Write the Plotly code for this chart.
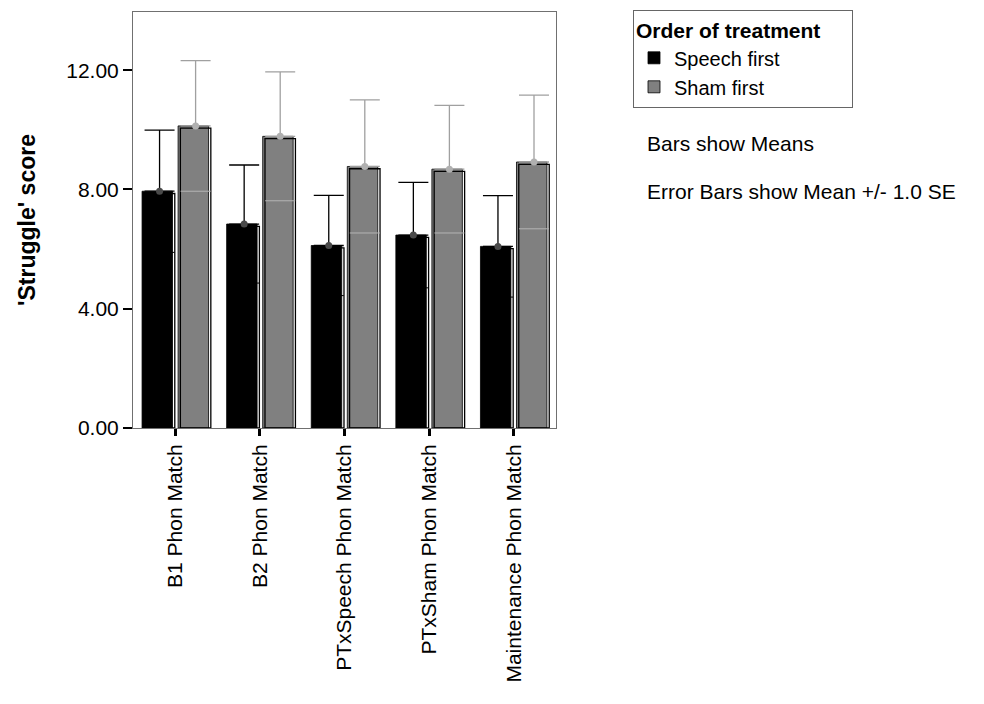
import plotly.graph_objects as go

categories = ["B1 Phon Match", "B2 Phon Match", "PTxSpeech Phon Match",
              "PTxSham Phon Match", "Maintenance Phon Match"]
speech_mean = [7.94, 6.84, 6.12, 6.47, 6.09]
speech_se = [2.05, 1.98, 1.68, 1.77, 1.70]
sham_mean = [10.13, 9.78, 8.77, 8.68, 8.92]
sham_se = [2.19, 2.16, 2.23, 2.14, 2.24]
y_ticks = [0, 4, 8, 12]

FONT = "Liberation Sans, Arial, sans-serif"
BAR_W = 0.36
SHIFT = 0.213          # half distance between the two bars of a group
SH_X = 0.027           # outline offset (category units)
SH_Y = 0.077           # outline drop (value units)

# page body has an 8px margin; plot area spans x 133..556, y 11..428 in the window
W, H = 976, 696
L, T, R, B = 125, 3, 428, 276
PW, PH = W - L - R, H - T - B

idx = list(range(len(categories)))
series = [
    ("Speech first", speech_mean, speech_se, -SHIFT, "#000000", "#000000", "#000000", "#4a4a4a"),
    ("Sham first", sham_mean, sham_se, SHIFT, "#808080", "#a0a0a0", "#b4b4b4", "#b0b0b0"),
]

fig = go.Figure()
# filled bars
for name, m, se, sh, fill, ecol, capcol, dotcol in series:
    fig.add_trace(go.Bar(
        x=idx, y=m, name=name, width=BAR_W, offset=sh - BAR_W / 2,
        marker=dict(color=fill, line=dict(color="#000000", width=0.8)),
        showlegend=True,
    ))
# outline rectangles (drop-shadow style)
for name, m, se, sh, fill, ecol, capcol, dotcol in series:
    fig.add_trace(go.Bar(
        x=idx, y=[v - SH_Y for v in m], width=BAR_W, offset=sh - BAR_W / 2 + SH_X,
        marker=dict(color="rgba(0,0,0,0)", line=dict(color="#000000", width=1.3)),
        showlegend=False, hoverinfo="skip",
    ))
# lower caps
for name, m, se, sh, fill, ecol, capcol, dotcol in series:
    fig.add_trace(go.Scatter(
        x=[i + sh + SH_X for i in idx], y=[a - b for a, b in zip(m, se)],
        mode="markers",
        marker=dict(symbol="line-ew", size=21.5, line=dict(color=capcol, width=1)),
        showlegend=False, hoverinfo="skip",
    ))
# upper error bars + mean dots
for name, m, se, sh, fill, ecol, capcol, dotcol in series:
    fig.add_trace(go.Scatter(
        x=[i + sh + SH_X for i in idx], y=m, mode="markers",
        marker=dict(symbol="circle", size=7, color=dotcol),
        error_y=dict(type="data", array=se, arrayminus=[0] * len(se),
                     color=ecol, thickness=1.3, width=15),
        showlegend=False, hoverinfo="skip",
    ))

fig.update_layout(
    width=W, height=H,
    barmode="overlay",
    paper_bgcolor="white", plot_bgcolor="white",
    margin=dict(l=L, r=R, t=T, b=B),
    font=dict(family=FONT, color="#000000", size=21),
    legend=dict(
        title=dict(text="<b>Order of treatment</b>" + "\u00a0" * 5,
                   font=dict(size=21, family=FONT)),
        x=(633 - 133) / PW, y=1 + 1 / PH, xanchor="left", yanchor="top",
        bordercolor="#666666", borderwidth=1, bgcolor="white",
        font=dict(size=20, family=FONT),
        itemwidth=30, tracegroupgap=0,
    ),
    annotations=[
        dict(text="Bars show Means", xref="paper", yref="paper",
             x=(645 - 133) / PW, y=(428 - 143) / PH, xanchor="left", yanchor="middle",
             showarrow=False, font=dict(size=21, family=FONT)),
        dict(text="Error Bars show Mean +/- 1.0 SE", xref="paper", yref="paper",
             x=(645 - 133) / PW, y=(428 - 191) / PH, xanchor="left", yanchor="middle",
             showarrow=False, font=dict(size=21, family=FONT)),
    ],
)
fig.update_xaxes(
    range=[-0.5, 4.5], tickmode="array", tickvals=idx, ticktext=categories,
    tickangle=-90, ticks="outside", ticklen=7, tickwidth=3, tickcolor="#000000",
    showline=True, linecolor="#707070", linewidth=1, mirror=True,
    showgrid=False, zeroline=False, tickfont=dict(size=21, family=FONT),
)
fig.update_yaxes(
    range=[0, 13.95], tickmode="array", tickvals=y_ticks, tickformat=".2f",
    ticks="outside", ticklen=9, tickwidth=2, tickcolor="#000000",
    showline=True, linecolor="#707070", linewidth=1, mirror=True,
    showgrid=False, zeroline=False, tickfont=dict(size=21, family=FONT),
    title=dict(text="<b>'Struggle' score</b>", font=dict(size=23, family=FONT), standoff=24),
)

fig.write_html("out.html")
